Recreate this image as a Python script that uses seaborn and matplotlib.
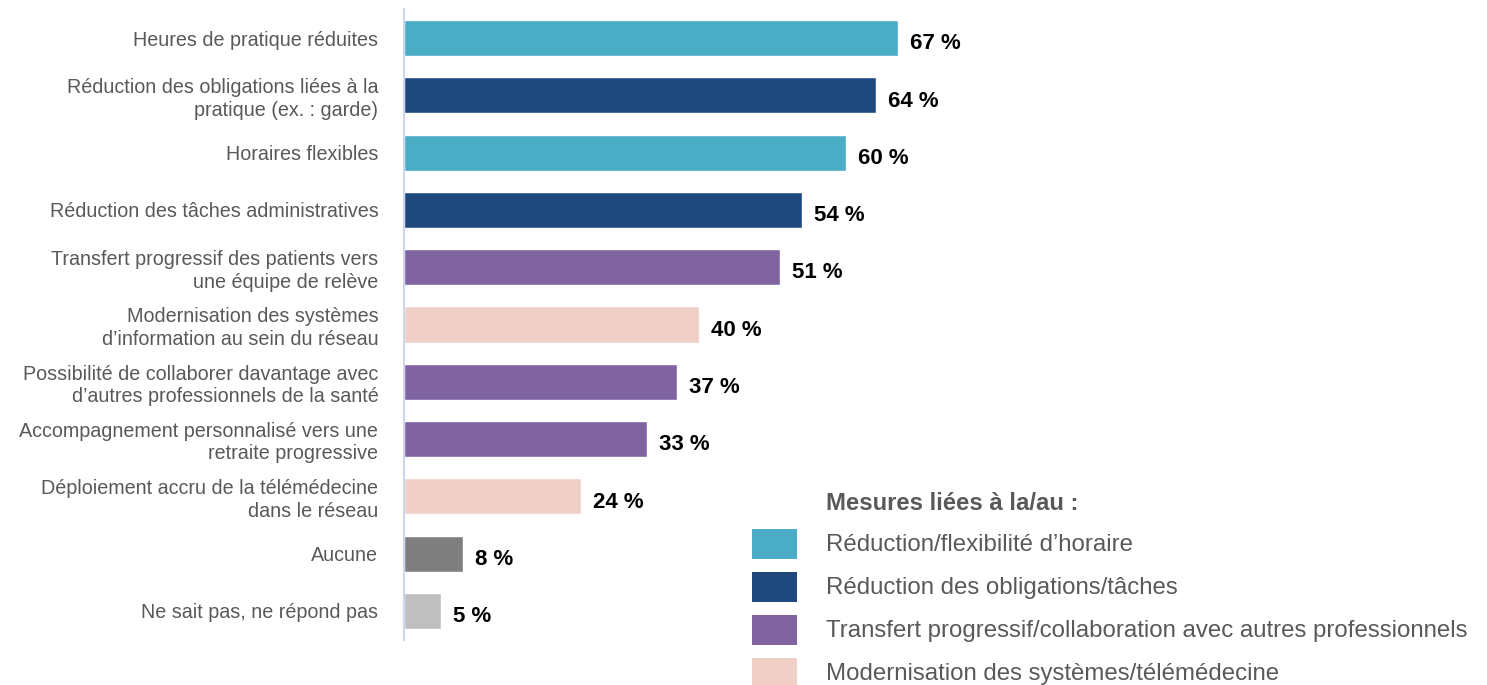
import matplotlib
matplotlib.use("Agg")
import matplotlib.pyplot as plt
from matplotlib.patches import Rectangle
import seaborn as sns
import pandas as pd

# Measures and share of respondents (%)
labels = [
    "Heures de pratique réduites",
    "Réduction des obligations liées à la\npratique (ex. : garde)",
    "Horaires flexibles",
    "Réduction des tâches administratives",
    "Transfert progressif des patients vers\nune équipe de relève",
    "Modernisation des systèmes\nd’information au sein du réseau",
    "Possibilité de collaborer davantage avec\nd’autres professionnels de la santé",
    "Accompagnement personnalisé vers une\nretraite progressive",
    "Déploiement accru de la télémédecine\ndans le réseau",
    "Aucune",
    "Ne sait pas, ne répond pas",
]
values = [67, 64, 60, 54, 51, 40, 37, 33, 24, 8, 5]
groups = ["horaire", "obligations", "horaire", "obligations", "transfert",
          "modernisation", "transfert", "transfert", "modernisation",
          "aucune", "nsp"]

group_keys = ["horaire", "obligations", "transfert", "modernisation", "aucune", "nsp"]
group_colors = ["#4BACC6", "#1F497D", "#8064A2", "#F0CFC6", "#7F7F7F", "#BFBFBF"]
legend_title = "Mesures liées à la/au :"
legend_labels = [
    "Réduction/flexibilité d’horaire",
    "Réduction des obligations/tâches",
    "Transfert progressif/collaboration avec autres professionnels",
    "Modernisation des systèmes/télémédecine",
]

sns.set_theme(style="white")
plt.rcParams["font.family"] = ["Liberation Sans", "DejaVu Sans"]

TEXT_GREY = "#595959"

df = pd.DataFrame({"label": labels, "value": values, "group": groups})
palette = dict(zip(group_keys, group_colors))

W, H = 1487, 685
fig = plt.figure(figsize=(W / 100, H / 100), dpi=100)
ax_left = 404 / W
ax_bottom = 1 - 639.6 / H
ax_top = 1 - 9.4 / H
ax = fig.add_axes([ax_left, ax_bottom, 1 - ax_left, ax_top - ax_bottom])

sns.barplot(data=df, y="label", x="value", hue="group", palette=palette,
            hue_order=group_keys, dodge=False, width=0.63, legend=False,
            saturation=1, ax=ax)

px_per_unit = 7.37
ax.set_xlim(0, (W - 404) / px_per_unit)
ax.set_ylim(len(labels) - 0.5, -0.5)

for i, v in enumerate(values):
    ax.text(v + 12 / px_per_unit, i + 0.1, f"{v} %", ha="left", va="center",
            fontsize=16, fontweight="bold", color="black")

ax.set_xlabel("")
ax.set_ylabel("")
ax.set_xticks([])
ax.tick_params(axis="y", length=0, pad=18.5, labelsize=14.2, labelcolor=TEXT_GREY)
for lab in ax.get_yticklabels():
    lab.set_horizontalalignment("right")
    lab.set_linespacing(1.22)
for side in ["top", "right", "bottom"]:
    ax.spines[side].set_visible(False)
ax.spines["left"].set_color("#CCD6EE")
ax.spines["left"].set_linewidth(1.5)

# Legend drawn in figure pixels
def fy(y):
    return 1 - y / H

fig.text(826 / W, fy(503), legend_title, ha="left", va="center",
         fontsize=17.2, fontweight="bold", color=TEXT_GREY)
for k, (lab, col) in enumerate(zip(legend_labels, group_colors)):
    yc = 544 + k * 43
    fig.patches.append(Rectangle((752 / W, fy(yc + 15)), 45 / W, 30 / H,
                                 transform=fig.transFigure, facecolor=col,
                                 edgecolor="none"))
    fig.text(826 / W, fy(yc + 1), lab, ha="left", va="center",
             fontsize=17.3, color=TEXT_GREY)

fig.savefig("out.png", dpi=100)
